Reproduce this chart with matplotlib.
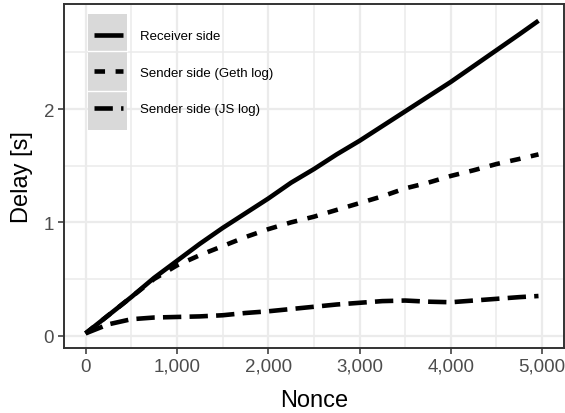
import matplotlib
matplotlib.use('Agg')
import matplotlib.pyplot as plt
from matplotlib.ticker import FuncFormatter, MultipleLocator
from matplotlib.patches import Rectangle

plt.rcParams['font.family'] = ['Liberation Sans', 'DejaVu Sans']

nonce = [0, 250, 500, 750, 1000, 1250, 1500, 1750, 2000, 2250, 2500,
         2750, 3000, 3250, 3500, 3750, 4000, 4250, 4500, 4750, 4960]
receiver = [0.02, 0.18, 0.34, 0.51, 0.66, 0.81, 0.95, 1.08, 1.21, 1.35, 1.47,
            1.60, 1.72, 1.85, 1.98, 2.11, 2.24, 2.38, 2.52, 2.66, 2.78]
sender_geth = [0.02, 0.18, 0.34, 0.50, 0.62, 0.71, 0.79, 0.87, 0.94, 1.00, 1.05,
               1.11, 1.17, 1.23, 1.30, 1.35, 1.41, 1.46, 1.515, 1.56, 1.60]
sender_js = [0.02, 0.10, 0.145, 0.16, 0.165, 0.17, 0.18, 0.20, 0.215, 0.235, 0.255,
             0.275, 0.29, 0.305, 0.31, 0.30, 0.295, 0.31, 0.325, 0.34, 0.35]
labels = ['Receiver side', 'Sender side (Geth log)', 'Sender side (JS log)']

fig = plt.figure(figsize=(5.65, 4.14), dpi=100)
ax = fig.add_axes([0.113, 0.157, 0.885, 0.831])

lw = 3.3
ax.plot(nonce, receiver, color='black', lw=lw, solid_capstyle='butt', label=labels[0])
ax.plot(nonce, sender_geth, color='black', lw=lw, dashes=(2.3, 2.3), label=labels[1])
ax.plot(nonce, sender_js, color='black', lw=lw, dashes=(4.0, 1.8), label=labels[2])

ax.set_xlim(-238, 5238)
ax.set_ylim(-0.109, 2.928)
ax.xaxis.set_major_locator(MultipleLocator(1000))
ax.xaxis.set_minor_locator(MultipleLocator(500))
ax.yaxis.set_major_locator(MultipleLocator(1))
ax.yaxis.set_minor_locator(MultipleLocator(0.5))
ax.xaxis.set_major_formatter(FuncFormatter(lambda v, p: '{:,.0f}'.format(v)))

ax.grid(which='major', color='#EBEBEB', lw=1.6)
ax.grid(which='minor', color='#EBEBEB', lw=1.1)
ax.set_axisbelow(True)
for s in ax.spines.values():
    s.set_color('#333333')
    s.set_linewidth(1.4)
ax.tick_params(which='major', direction='out', length=4, width=1.1, color='#333333',
               labelcolor='#4D4D4D', labelsize=13.5, pad=3)
ax.tick_params(which='minor', length=0)

ax.set_xlabel('Nonce', fontsize=17, labelpad=10)
ax.set_ylabel('Delay [s]', fontsize=17, labelpad=8)

# grey key background like the ggplot legend
ax.add_patch(Rectangle((0.048, 0.634), 0.078, 0.337, transform=ax.transAxes,
                       facecolor='#D9D9D9', edgecolor='none', zorder=1))
for yy in [0.747, 0.863]:
    ax.plot([0.048, 0.126], [yy, yy], transform=ax.transAxes, color='white', lw=1, zorder=1.5)

leg = ax.legend(loc='upper left', bbox_to_anchor=(0.05, 0.94), frameon=False,
                fontsize=9.5, handlelength=2.2, handletextpad=1.3, labelspacing=1.85,
                borderaxespad=0)
leg.set_zorder(3)

fig.savefig('out.png', dpi=100)
